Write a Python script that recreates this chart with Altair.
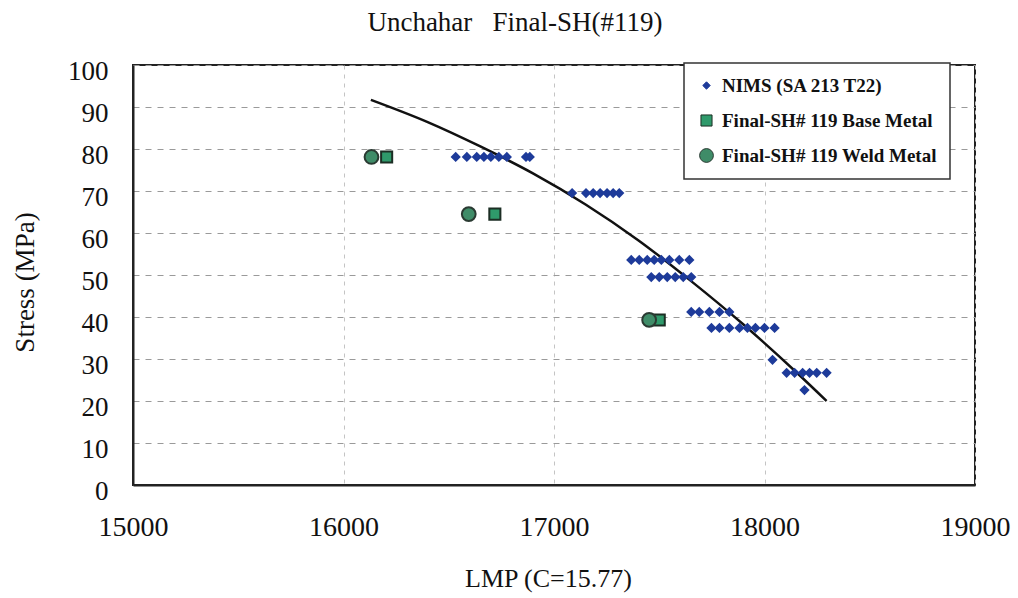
import altair as alt
import pandas as pd

# ---- data ----
nims_lmp = [16533, 16586, 16633, 16667, 16700, 16738, 16776, 16867, 16885,
            17086, 17152, 17186, 17219, 17252, 17281, 17310,
            17367, 17405, 17443, 17476, 17510, 17548, 17595, 17643,
            17462, 17500, 17538, 17576, 17614, 17652,
            17652, 17690, 17738, 17786, 17833,
            17748, 17786, 17833, 17881, 17919, 17957, 18000, 18048,
            18038,
            18105, 18143, 18181, 18214, 18248, 18295,
            18190]
nims_stress = [78.1] * 9 + [69.5] * 7 + [53.6] * 8 + [49.5] * 6 + [41.2] * 5 + \
              [37.4] * 8 + [29.8] + [26.7] * 6 + [22.6]

base_lmp = [16205, 16719, 17500]
base_stress = [78.1, 64.5, 39.3]

weld_lmp = [16133, 16595, 17452]
weld_stress = [78.1, 64.5, 39.3]

curve_lmp = [16130, 16400, 16650, 16900, 17150, 17400, 17650, 17900, 18150, 18295]
curve_stress = [91.7, 86.4, 80.6, 74.2, 66.8, 58.3, 48.6, 38.2, 26.9, 20.0]

series_names = ["NIMS (SA 213 T22)", "Final-SH# 119 Base Metal", "Final-SH# 119 Weld Metal"]

pts = pd.DataFrame(
    {"lmp": nims_lmp, "stress": nims_stress, "series": series_names[0]}
)
pts = pd.concat([
    pts,
    pd.DataFrame({"lmp": base_lmp, "stress": base_stress, "series": series_names[1]}),
    pd.DataFrame({"lmp": weld_lmp, "stress": weld_stress, "series": series_names[2]}),
], ignore_index=True)

curve = pd.DataFrame({"lmp": curve_lmp, "stress": curve_stress})

FONT = "Liberation Serif"

xscale = alt.Scale(domain=[15000, 19000], nice=False, zero=False)
yscale = alt.Scale(domain=[0, 100], nice=False)

xaxis = alt.Axis(
    title="LMP (C=15.77)", values=[15000, 16000, 17000, 18000, 19000],
    grid=True, gridDash=[4, 5], gridColor="#c4c4c4", gridWidth=1,
    ticks=False, labelPadding=28, labelFontSize=28, labelFont=FONT,
    labelColor="#111", titleFont=FONT, titleFontSize=26, titleFontWeight="normal",
    titleColor="#111", titleX=415, titleY=93, titleBaseline="middle",
    titleAlign="center", domainColor="#222", domainWidth=2, format="d",
    labelFlush=False,
)
yaxis = alt.Axis(
    title="Stress (MPa)", values=list(range(0, 101, 10)),
    grid=True, gridDash=[6, 6], gridColor="#9a9a9a", gridWidth=1,
    ticks=False, labelPadding=25, labelFontSize=27, labelFont=FONT,
    labelOffset=6,
    labelColor="#111", titleFont=FONT, titleFontSize=27, titleFontWeight="normal",
    titleColor="#111", titleX=-108, titleY=217, titleBaseline="middle",
    titleAlign="center", titleAngle=270, domainColor="#222", domainWidth=2,
)

legend = alt.Legend(
    title=None, orient="none", legendX=551, legendY=-2,
    fillColor="white", strokeColor="#333",
    padding=13, rowPadding=15, labelFont=FONT, labelFontSize=19,
    labelFontWeight="bold", labelColor="#111", symbolStrokeWidth=1,
    labelLimit=400, labelOffset=6,
)

points = alt.Chart(pts).mark_point(filled=True, opacity=1).encode(
    x=alt.X("lmp:Q", scale=xscale, axis=xaxis),
    y=alt.Y("stress:Q", scale=yscale, axis=yaxis),
    shape=alt.Shape("series:N", scale=alt.Scale(domain=series_names,
                    range=["diamond", "square", "circle"]), legend=legend),
    color=alt.Color("series:N", scale=alt.Scale(domain=series_names,
                    range=["#1e3b9a", "#2f9a6b", "#3f8c68"]), legend=legend),
    stroke=alt.Stroke("series:N", scale=alt.Scale(domain=series_names,
                      range=["#1e3b9a", "#1c2e24", "#2a3a32"]), legend=legend),
    size=alt.Size("series:N", scale=alt.Scale(domain=series_names,
                  range=[55, 190, 180]), legend=legend),
    order=alt.Order("series:N", sort="ascending"),
)

line = alt.Chart(curve).mark_line(color="#111", strokeWidth=2.5, interpolate="monotone").encode(
    x=alt.X("lmp:Q", scale=xscale),
    y=alt.Y("stress:Q", scale=yscale),
)

chart = alt.layer(line, points).properties(
    width=842, height=420,
    title=alt.TitleParams("Unchahar\u00a0\u00a0\u00a0Final-SH(#119)", font=FONT, fontSize=27,
                          fontWeight="normal", color="#111", offset=20, dx=-39),
    autosize=alt.AutoSizeParams(type="none"),
    padding={"left": 133, "top": 65, "right": 43, "bottom": 113},
    background="white",
).configure_view(stroke="#222", strokeWidth=2).configure_legend(strokeWidth=1.5)

chart.save("out.html", embed_options={"renderer": "svg", "actions": False})
